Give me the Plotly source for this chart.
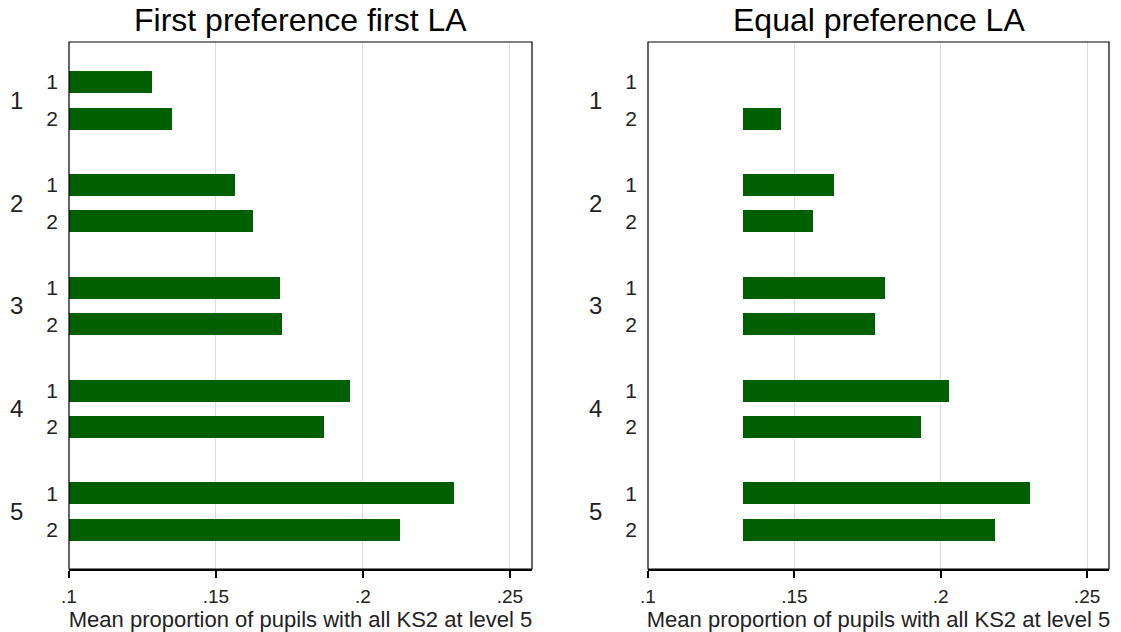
import plotly.graph_objects as go

# ---- data ----
groups = ["1", "2", "3", "4", "5"]
subgroups = ["1", "2"]
panel_titles = ["First preference first LA", "Equal preference LA"]
first_pref = [0.1282, 0.1351, 0.1566, 0.1625, 0.1718, 0.1723, 0.1955, 0.1868, 0.2309, 0.2126]
equal_pref = [0.1325, 0.1454, 0.1637, 0.1562, 0.1809, 0.1777, 0.2030, 0.1933, 0.2304, 0.2185]
bar_base = [0.1, 0.1325]
x_tick_vals = [0.1, 0.15, 0.2, 0.25]
x_tick_text = [".1", ".15", ".2", ".25"]
x_title = "Mean proportion of pupils with all KS2 at level 5"

# ---- layout constants ----
W, H = 1121, 632
FONT = "Liberation Sans, Arial, sans-serif"
GREEN = "#006000"
GROUP_GAP = 2.815   # distance between groups in sub-bar units
pos = []
sub_lab = []
for gi, g in enumerate(groups):
    for si, s in enumerate(subgroups):
        pos.append(gi * GROUP_GAP + si)
        sub_lab.append(s)
group_centers = [gi * GROUP_GAP + 0.5 for gi in range(len(groups))]
y_range = [4 * GROUP_GAP + 1 + 1.07, -1.096]

x_domains = [[69 / W, 532 / W], [648 / W, 1109 / W]]
y_domain = [1 - 569 / H, 1 - 42 / H]

fig = go.Figure()
series = [first_pref, equal_pref]
annotations = []
shapes = []
for i in range(2):
    xa = "x" if i == 0 else "x2"
    ya = "y" if i == 0 else "y2"
    vals = series[i]
    fig.add_trace(go.Bar(
        orientation="h",
        y=pos,
        x=[v - bar_base[i] for v in vals],
        base=bar_base[i],
        width=0.6,
        marker=dict(color=GREEN, line=dict(width=0)),
        xaxis=xa, yaxis=ya, showlegend=False,
    ))
    sfx = "" if i == 0 else "2"
    fig.layout["xaxis" + sfx] = dict(
        domain=x_domains[i], range=[0.1, 0.2575], anchor=ya, automargin=False,
        tickvals=x_tick_vals, ticktext=x_tick_text,
        showgrid=True, gridcolor="#dcdcdc", gridwidth=1,
        zeroline=False, showline=True, linecolor="black", linewidth=2,
        ticks="outside", ticklen=7, tickwidth=1.5, tickcolor="black",
        ticklabelstandoff=2,
        tickfont=dict(family=FONT, size=19, color="#222222"),
        title=dict(text=x_title, font=dict(family=FONT, size=22, color="#222222"), standoff=0),
    )
    fig.layout["yaxis" + sfx] = dict(
        domain=y_domain, range=y_range, anchor=xa, automargin=False,
        tickvals=pos, ticktext=sub_lab, ticks="",
        showgrid=False, zeroline=False, showline=False,
        ticklabelstandoff=10,
        tickfont=dict(family=FONT, size=21, color="#222222"),
    )
    xref_dom = ("x" if i == 0 else "x2") + " domain"
    yref_dom = ("y" if i == 0 else "y2") + " domain"
    shapes.append(dict(type="rect", xref=xref_dom, yref=yref_dom, x0=0, x1=1, y0=0, y1=1,
                       line=dict(color="black", width=1.2), layer="above"))
    for gc, g in zip(group_centers, groups):
        annotations.append(dict(
            xref=xref_dom, yref=ya, x=-0.095, y=gc, xanchor="right", yanchor="middle",
            text=g, showarrow=False, font=dict(family=FONT, size=24, color="#222222")))
    annotations.append(dict(
        xref=xref_dom, yref="paper", x=0.5, y=1 - 20 / H, xanchor="center", yanchor="middle",
        text=panel_titles[i], showarrow=False, font=dict(family=FONT, size=32, color="black")))

fig.update_layout(
    width=W, height=H, margin=dict(l=0, r=0, t=0, b=0),
    paper_bgcolor="white", plot_bgcolor="white",
    annotations=annotations, shapes=shapes, bargap=0,
)
fig.write_html("out.html", config={"displayModeBar": False},
               post_script="document.body.style.margin='0';document.body.style.overflow='hidden';")
